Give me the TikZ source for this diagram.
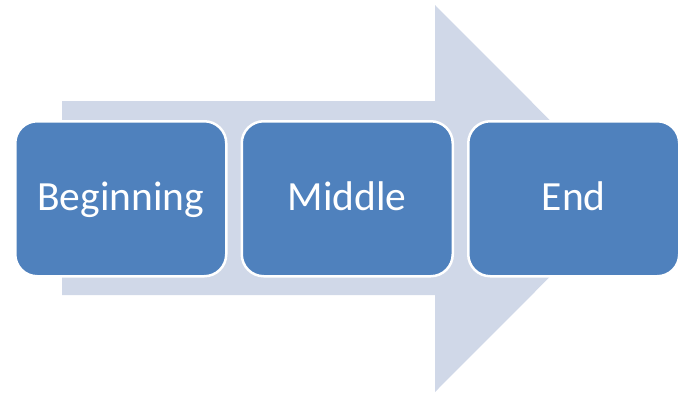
\documentclass[tikz,border=0pt]{standalone}
\usepackage{fontspec}
\setmainfont{Carlito}
\definecolor{arrowfill}{HTML}{D0D8E8}
\definecolor{boxfill}{HTML}{4F81BD}
\begin{document}
\begin{tikzpicture}[x=1pt,y=-1pt,
  stagebox/.style={draw=white, line width=2.5pt, fill=boxfill, rounded corners=22pt,
    minimum width=211pt, minimum height=155pt, inner sep=0pt, text=white,
    text height=28pt, text depth=5pt,
    font=\fontsize{41.5}{48}\selectfont, anchor=north west}]
\useasboundingbox (0,0) rectangle (686,402);
\fill[arrowfill] (62,101) -- (435,101) -- (435,5) -- (628,198.5) -- (435,392) -- (435,295) -- (62,295) -- cycle;
\node[stagebox] (b) at (14,120) {Beginning};
\node[stagebox] (m) at (240.5,120) {Middle};
\node[stagebox] (e) at (467,120) {End};
\end{tikzpicture}
\end{document}
